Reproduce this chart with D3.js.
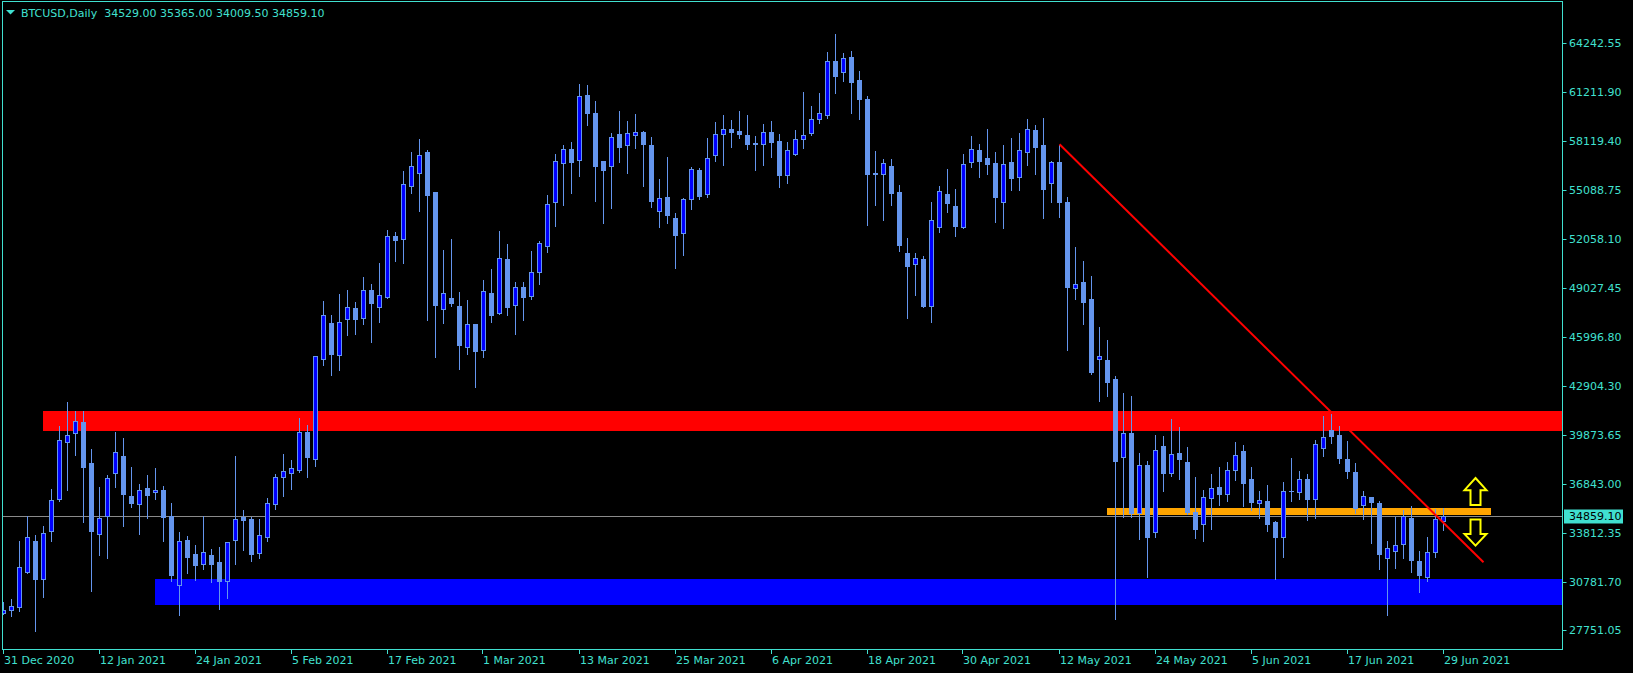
<!DOCTYPE html>
<html><head><meta charset="utf-8">
<script src="https://cdn.jsdelivr.net/npm/d3@7"></script>
<style>html,body{margin:0;padding:0;background:#000;overflow:hidden}</style>
</head><body>
<svg id="c" width="1633" height="673"></svg>
<script>
// ---------- DATA ----------
const firstDay = "2020-12-31";
const opens  = [28853,29000,29230,31400,33300,30965,33950,35930,39470,40030,40700,38150,33720,34840,37500,38560,36080,35580,36575,36330,36470,34860,30590,33370,32500,31860,32435,32000,30840,33350,34775,34650,32580,33575,35620,37260,37550,37735,40050,38420,44630,46840,44880,47110,47770,47170,48870,47860,48480,52220,52040,55370,56180,57440,54960,47730,48400,47900,45370,46760,45190,48700,47480,50820,47980,49060,48540,49990,51600,54335,56760,57630,56945,60980,59860,56880,56570,58560,57920,58500,58700,57900,53780,54670,53340,52450,54520,56340,54830,57250,58560,58890,58765,58520,57980,57940,58680,58145,56010,57360,58250,58620,59490,59780,63090,62410,63340,61910,60750,56150,56120,56590,54980,51190,50530,50820,47920,52780,54850,54110,52825,56820,57565,57090,56780,54380,56840,55930,57480,58830,57900,55515,56840,54360,49000,49390,48330,44585,44545,43345,38500,39990,35020,38000,33840,39180,37510,38750,38190,35105,34340,35955,36660,36200,37690,38870,37135,35685,35770,34465,33530,36390,36325,37135,35890,39060,40180,39890,38400,37590,35560,36015,35665,32270,32705,33140,34755,32060,31090,32640,34529];
const highs  = [29500,29700,33300,34880,33680,34240,36530,40450,41920,41380,41380,39000,36660,37400,40070,39680,37900,36820,37400,37820,36720,35660,33840,33640,33060,34880,32810,32930,33260,38580,35230,34820,34650,35975,37465,38710,38330,40940,40510,44800,48210,47340,48640,48890,48150,49700,49260,50550,52620,52470,56280,57440,58270,57590,54960,51375,52060,48750,48270,46800,49510,50200,52555,51750,49370,49370,51310,51910,54770,57340,57875,58060,61660,61620,60650,56880,58620,59990,59390,59800,58770,58370,55780,57130,53650,54600,56530,56470,58310,59300,59760,59450,60010,59760,58455,59200,59390,58580,58080,58830,61190,60320,61125,63670,64790,63630,63730,62490,60940,57520,57010,57010,55410,52100,51190,50980,54360,55350,56400,55160,57340,58455,57960,58890,57460,57900,58330,58640,59510,59140,59570,56920,57900,54690,51560,50690,49760,46590,45790,43550,42475,42310,38750,38290,39890,39800,40880,40360,39120,37280,36470,37465,37900,38210,39450,39265,37900,36390,36780,34550,36970,38440,37650,37445,39600,41070,41190,40445,39515,38150,36410,36060,35790,33300,34815,35230,35480,32680,33555,35290,35365];
const lows   = [28770,28650,28980,31300,27700,29850,33320,35800,36470,38640,34500,30220,32460,32270,36660,34260,35440,33760,34710,35910,33325,30840,28730,31340,30900,31590,30780,29100,29785,31900,32770,32080,32270,33325,35310,36100,36530,37590,37300,37980,44230,43610,43940,46120,46160,46800,45680,46925,48400,50710,50570,54940,53820,47030,44750,46860,47920,44000,44920,42890,44750,46925,47400,47340,46180,47050,48350,49240,51270,52890,54190,54940,55990,59160,54440,53070,54000,56860,56180,57710,55370,54070,52820,53070,50280,51090,53900,54560,54690,56920,56680,57790,58350,57670,56340,56675,57170,55310,55560,57300,57730,58520,59280,59590,61150,61890,59900,59510,52930,54170,53240,54170,51330,47170,48580,47815,46925,52490,53760,52270,52720,56550,55930,56115,53135,52740,55100,55120,56675,56115,53380,54380,53445,45170,48310,46800,43675,42020,42330,28440,34815,34815,33430,31050,33575,36430,37360,37135,35000,33510,33325,34070,35560,35810,37115,35455,35250,34710,33945,30925,32330,35770,35890,34630,34710,38600,39410,38170,37240,35040,34690,33200,31585,28730,31650,32270,31400,30115,30840,32330,34009.5];
const closes = [29020,29270,31670,33530,30965,33780,35830,39556,39870,40740,37920,33950,34710,37200,38810,36240,35690,36450,36180,36470,34815,31190,33280,32330,31835,32600,31900,30840,33220,34650,34590,32520,33660,35645,37260,37630,37820,40050,38540,44770,47320,44920,46900,47815,47090,48870,48100,48560,52220,52020,55450,56570,57250,54810,47980,48680,48100,45500,46760,45120,48810,47360,50860,47815,49060,48480,49990,51790,54210,56880,57630,56860,60920,59900,56610,56360,58370,57790,58620,58700,57980,54440,54580,53570,52330,54520,56410,54750,57070,58560,58870,58720,58600,57980,58000,58680,58100,56050,57565,58270,58500,59490,59860,63090,62200,63280,61830,60770,56120,56100,56760,54940,51710,50400,50860,47920,53240,55020,54320,52890,56695,57630,56920,56740,54670,56695,55870,57565,58870,57790,55180,56820,54380,49100,49260,48170,43820,44790,43200,38290,39990,35065,38000,33575,38935,37550,38690,38375,35125,34070,36015,36575,36245,37690,38625,36925,35745,35870,34380,33575,36390,36400,37135,35935,39310,39740,39845,38480,37670,35355,36080,35745,32520,32850,33055,34855,32145,31215,32600,34670,34859.1];

const timeTickLabels = ["31 Dec 2020","12 Jan 2021","24 Jan 2021","5 Feb 2021","17 Feb 2021","1 Mar 2021","13 Mar 2021","25 Mar 2021","6 Apr 2021","18 Apr 2021","30 Apr 2021","12 May 2021","24 May 2021","5 Jun 2021","17 Jun 2021","29 Jun 2021"];
const priceTickValues = [64242.55,61211.90,58119.40,55088.75,52058.10,49027.45,45996.80,42904.30,39873.65,36843.00,33812.35,30781.70,27751.05];
const priceTickLabels = ["64242.55","61211.90","58119.40","55088.75","52058.10","49027.45","45996.80","42904.30","39873.65","36843.00","33812.35","30781.70","27751.05"];

const headerSymbol = "BTCUSD,Daily";
const headerOHLC = ["34529.00","35365.00","34009.50","34859.10"];
const bidPrice = 34859.10;

// zones: [fromDay, toDay, topPrice, bottomPrice]
const resistanceZone = [5, 200, 41377, 40104];
const supportZone    = [19, 200, 30945, 29330];
const pivotZone      = [138, 186, 35370, 34930];
// trend line: [fromDay, fromPrice, toDay, toPrice]
const trendLine = [132, 57939, 185, 31982];
// arrows: [day, topPrice, bottomPrice]
const upArrow   = [184, 37216, 35539];
const downArrow = [184, 34632, 33017];

// ---------- STYLE / LAYOUT ----------
const W = 1633, H = 673;
const plot = {left: 2, right: 1562, top: 1, bottom: 649};
const fg = "#40E0D0";
const lineCol = "#6495ED", bullFill = "#0000FF", bearFill = "#6495ED";
const font = "DejaVu Sans, Verdana, sans-serif";

const svg = d3.select("#c");
svg.append("rect").attr("width", W).attr("height", H).attr("fill", "#000");

const parse = d3.utcParse("%Y-%m-%d");
const d0 = parse(firstDay);
const dayDate = i => d3.utcDay.offset(d0, i);
const x = d3.scaleUtc().domain([d0, dayDate(180)]).range([3.5, 1443.5]);
const y = d3.scaleLinear().domain([27751.05, 64242.55]).range([630.4, 42.8]);
const X = i => x(dayDate(i));

svg.append("defs").append("clipPath").attr("id", "clip")
  .append("rect").attr("x", plot.left + 1).attr("y", plot.top + 1)
  .attr("width", plot.right - plot.left - 1).attr("height", plot.bottom - plot.top - 1);

const g = svg.append("g").attr("clip-path", "url(#clip)");

// zones (background)
function zone(z, color) {
  g.append("rect")
    .attr("x", Math.round(X(z[0]) - 0.5)).attr("y", Math.round(y(z[2])))
    .attr("width", Math.round(X(z[1]) - X(z[0])))
    .attr("height", Math.round(y(z[3]) - y(z[2])))
    .attr("fill", color);
}
zone(resistanceZone, "#FF0000");
zone(supportZone, "#0000FF");
zone(pivotZone, "#FFA500");

// bid line
g.append("line").attr("x1", plot.left).attr("x2", plot.right)
  .attr("y1", Math.round(y(bidPrice)) + 0.5).attr("y2", Math.round(y(bidPrice)) + 0.5)
  .attr("stroke", "#8a8a8a").attr("stroke-width", 1);

// candles
const idx = d3.range(opens.length);
const cg = g.append("g");
cg.selectAll("line.w").data(idx).join("line").attr("class", "w")
  .attr("x1", i => X(i)).attr("x2", i => X(i))
  .attr("y1", i => Math.round(y(highs[i]))).attr("y2", i => Math.round(y(lows[i])) + 1)
  .attr("stroke", lineCol).attr("stroke-width", 1);
cg.selectAll("rect.b").data(idx).join("rect").attr("class", "b")
  .attr("x", i => X(i) - 2)
  .attr("y", i => Math.round(y(Math.max(opens[i], closes[i]))) + 0.5)
  .attr("width", 4)
  .attr("height", i => Math.max(0.01, Math.round(y(Math.min(opens[i], closes[i]))) - Math.round(y(Math.max(opens[i], closes[i])))))
  .attr("fill", i => closes[i] > opens[i] ? bullFill : bearFill)
  .attr("stroke", lineCol).attr("stroke-width", 1);

// trend line
g.append("line")
  .attr("x1", X(trendLine[0])).attr("y1", y(trendLine[1]))
  .attr("x2", X(trendLine[2])).attr("y2", y(trendLine[3]))
  .attr("stroke", "#FF0000").attr("stroke-width", 2);

// arrows
function arrow(a, up) {
  const cx = X(a[0]), t = y(a[1]), b = y(a[2]);
  const hw = 11, sw = 5, hh = (b - t) * 0.45;
  let pts;
  if (up) pts = [[cx, t], [cx + hw, t + hh], [cx + sw, t + hh], [cx + sw, b], [cx - sw, b], [cx - sw, t + hh], [cx - hw, t + hh]];
  else pts = [[cx, b], [cx + hw, b - hh], [cx + sw, b - hh], [cx + sw, t], [cx - sw, t], [cx - sw, b - hh], [cx - hw, b - hh]];
  g.append("polygon").attr("points", pts.map(p => p.join(",")).join(" "))
    .attr("fill", "none").attr("stroke", "#FFFF00").attr("stroke-width", 2).attr("stroke-linejoin", "miter");
}
arrow(upArrow, true);
arrow(downArrow, false);

// frame
svg.append("rect").attr("x", plot.left + 0.5).attr("y", plot.top + 0.5)
  .attr("width", plot.right - plot.left).attr("height", plot.bottom - plot.top)
  .attr("fill", "none").attr("stroke", fg).attr("stroke-width", 1);

// price axis
const pa = svg.append("g");
priceTickValues.forEach((v, k) => {
  const yy = Math.round(y(v)) + 0.5;
  pa.append("line").attr("x1", plot.right + 0.5).attr("x2", plot.right + 4.5).attr("y1", yy).attr("y2", yy)
    .attr("stroke", fg).attr("stroke-width", 1);
  pa.append("text").attr("x", plot.right + 7).attr("y", yy).attr("dy", "0.36em")
    .attr("fill", fg).attr("font-family", font).attr("font-size", 11).text(priceTickLabels[k]);
});
// bid label
const by = Math.round(y(bidPrice)) + 0.5;
pa.append("rect").attr("x", plot.right + 2).attr("y", by - 7).attr("width", 59).attr("height", 14).attr("fill", fg);
pa.append("text").attr("x", plot.right + 7).attr("y", by).attr("dy", "0.36em")
  .attr("fill", "#000").attr("font-family", font).attr("font-size", 11).text(d3.format(".2f")(bidPrice));

// time axis
const ta = svg.append("g");
const tparse = d3.utcParse("%-d %b %Y");
timeTickLabels.forEach(lbl => {
  const xx = Math.round(x(tparse(lbl))) - 0.5;
  ta.append("line").attr("x1", xx).attr("x2", xx).attr("y1", plot.bottom + 0.5).attr("y2", plot.bottom + 5)
    .attr("stroke", fg).attr("stroke-width", 1);
  ta.append("text").attr("x", xx + 0.5).attr("y", plot.bottom + 15)
    .attr("fill", fg).attr("font-family", font).attr("font-size", 11).text(lbl);
});

// header
svg.append("path").attr("d", "M6,10 L15,10 L10.5,14.5 Z").attr("fill", fg);
svg.append("text").attr("x", 21).attr("y", 17).attr("fill", fg).attr("font-family", font).attr("font-size", 11)
  .attr("xml:space", "preserve")
  .text(headerSymbol + "  " + headerOHLC.join(" "));
</script>
</body></html>
